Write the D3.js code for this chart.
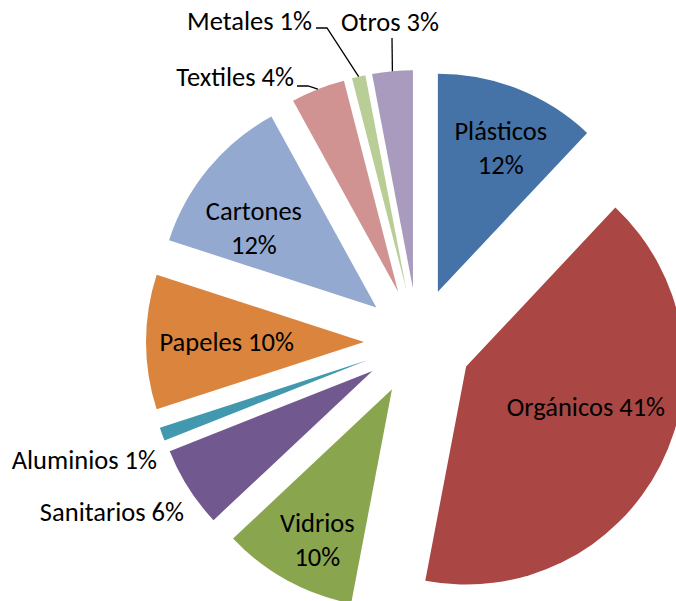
<!DOCTYPE html>
<html><head><meta charset="utf-8">
<script src="https://cdn.jsdelivr.net/npm/d3@7"></script>
<style>html,body{margin:0;padding:0;background:#fff;overflow:hidden}</style>
</head><body>
<svg id="chart" width="676" height="601"></svg>
<script>
const categories = ["Plásticos","Orgánicos","Vidrios","Sanitarios","Aluminios","Papeles","Cartones","Textiles","Metales","Otros"];
const values = [12,41,10,6,1,10,12,4,1,3];
const colors = ["#4572A7","#AA4643","#89A54E","#71588F","#4198AF","#DB843D","#93A9CF","#D19392","#B9CD96","#A99BBD"];
const labelLines = [["Plásticos","12%"],["Orgánicos 41%"],["Vidrios","10%"],["Sanitarios 6%"],["Aluminios 1%"],["Papeles 10%"],["Cartones","12%"],["Textiles 4%"],["Metales 1%"],["Otros 3%"]];

const W = 676, H = 601;
const cx = 418, cy = 342, R = 218, explode = 54;
const svg = d3.select("#chart");
const pie = d3.pie().sort(null).value(d => d)(values);
const arc = d3.arc().innerRadius(0).outerRadius(R);
const dir = a => [Math.sin(a), -Math.cos(a)];

const g = svg.append("g").attr("transform", `translate(${cx},${cy})`);
pie.forEach((p, i) => {
  const m = (p.startAngle + p.endAngle) / 2;
  const [dx, dy] = dir(m);
  g.append("path")
    .attr("d", arc(p))
    .attr("fill", colors[i])
    .attr("transform", `translate(${dx*explode},${dy*explode})`);
});

// label placement: inside labels (radius fraction + angle tweak in degrees) or outside (anchor point)
const inside = {0:[0.72,2],1:[0.58,-8.4],2:[0.77,-2.4],5:[0.63,0],6:[0.67,-6.6]};
const outside = {3:{x:184,y:512,a:"end"},4:{x:157,y:460,a:"end"},7:{x:294,y:77,a:"end",line:[[297,86],[308,86]]},8:{x:312,y:21,a:"end",line:[[316,28],[327,28]]},9:{x:390,y:22,a:"middle",line:[[392,38]]}};
const fs = 26.5, lh = 34;
const font = "Carlito, Calibri, Lato, 'Open Sans', sans-serif";
pie.forEach((p, i) => {
  const m = (p.startAngle + p.endAngle) / 2;
  const [dx, dy] = dir(m);
  const lines = labelLines[i];
  let x, y, anchor = "middle";
  if (inside[i]) {
    const [f, tw] = inside[i];
    const a2 = m + tw * Math.PI / 180;
    const [ex, ey] = dir(a2);
    x = cx + dx*explode + ex*R*f;
    y = cy + dy*explode + ey*R*f;
  } else {
    const o = outside[i];
    x = o.x; y = o.y; anchor = o.a;
    if (o.line) {
      const end = [cx + dx*(explode+R), cy + dy*(explode+R)];
      const pts = o.line.concat([end]);
      svg.append("path").attr("d", d3.line()(pts)).attr("fill","none").attr("stroke","#000").attr("stroke-width",1.3);
    }
  }
  const t = svg.append("text").attr("text-anchor", anchor)
    .attr("font-family", font).attr("font-size", fs).attr("fill","#000");
  const y0 = y - (lines.length - 1) * lh / 2;
  lines.forEach((s, k) => {
    t.append("tspan").attr("x", x).attr("y", y0 + k*lh).attr("dy","0.35em").text(s);
  });
});
</script>
</body></html>
